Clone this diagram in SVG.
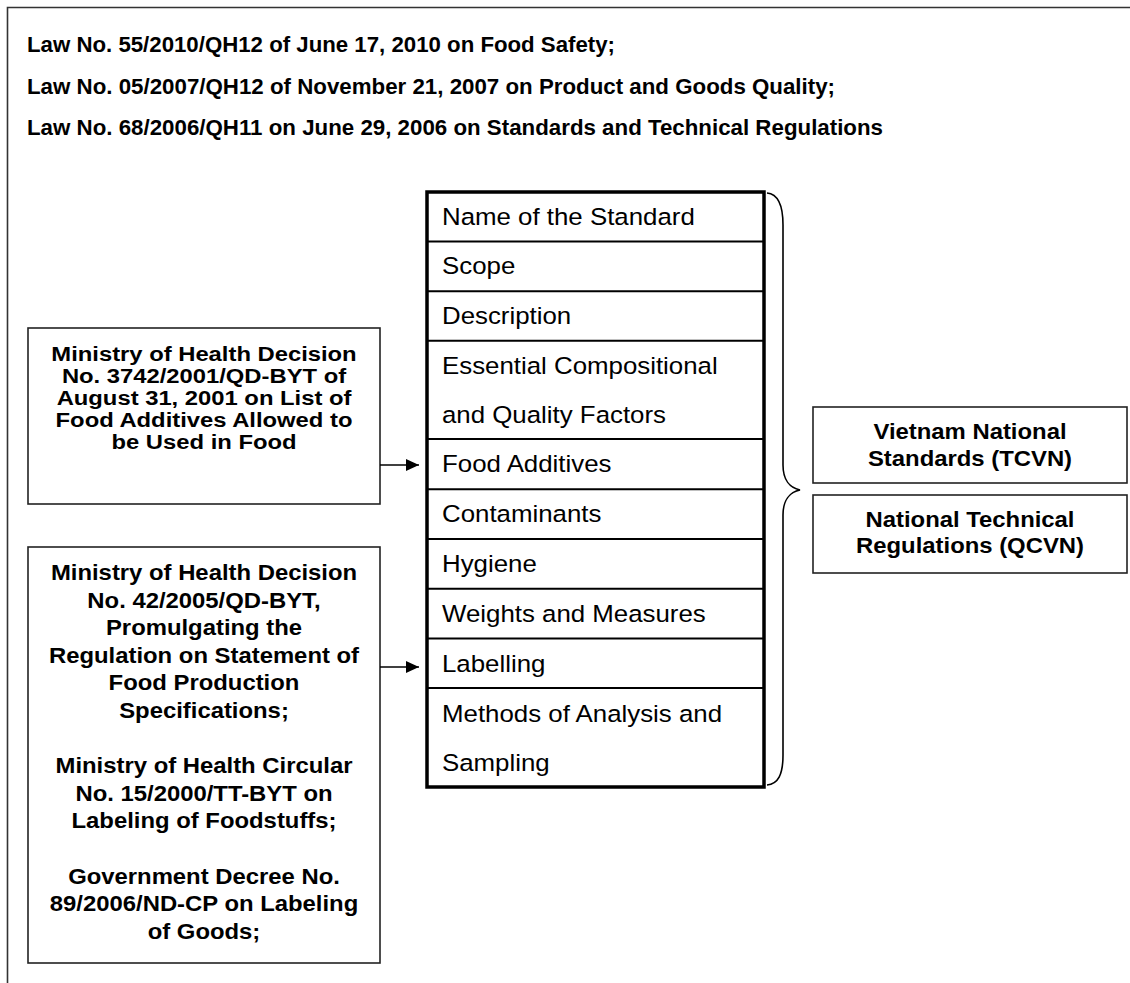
<svg xmlns="http://www.w3.org/2000/svg" width="1130" height="983" viewBox="0 0 1130 983">
  <style>
    .law { font-family: "Liberation Sans", Arial, sans-serif; font-weight: bold; font-size: 21.5px; fill: #000; }
    .box { fill: #fff; stroke: #222; stroke-width: 1.6; }
    .lbl { font-family: "Liberation Sans", Arial, sans-serif; font-weight: bold; font-size: 22px; fill: #000; text-anchor: middle; }
    .lbl.tight { font-size: 20px; }
    .cell { font-family: "Liberation Sans", Arial, sans-serif; font-size: 23.5px; fill: #000; }
    .rowline { stroke: #000; stroke-width: 2; }
    .frame { fill: none; stroke: #333; stroke-width: 1.6; }
    .conn { stroke: #000; stroke-width: 1.6; fill: none; }
  </style>
  <defs>
    <marker id="arrowhead" markerUnits="userSpaceOnUse" markerWidth="14" markerHeight="13" refX="13" refY="6" orient="auto">
      <path d="M0,0 L13,6 L0,12 z" fill="#000"/>
    </marker>
  </defs>

  <rect width="1130" height="983" fill="#fff"/>

  <!-- outer frame: only top and left edges fall inside the canvas -->
  <path class="frame" d="M7.5,983 L7.5,7.5 L1130,7.5"/>

  <!-- legal basis -->
  <g id="laws">
    <text class="law" x="27" y="51.5" textLength="588" lengthAdjust="spacingAndGlyphs">Law No. 55/2010/QH12 of June 17, 2010 on Food Safety;</text>
    <text class="law" x="27" y="93.5" textLength="808" lengthAdjust="spacingAndGlyphs">Law No. 05/2007/QH12 of November 21, 2007 on Product and Goods Quality;</text>
    <text class="law" x="27" y="135" textLength="856" lengthAdjust="spacingAndGlyphs">Law No. 68/2006/QH11 on June 29, 2006 on Standards and Technical Regulations</text>
  </g>

  <!-- standard structure table -->
  <g id="standard-table">
    <rect x="427" y="192" width="337" height="595" fill="#fff" stroke="#000" stroke-width="3.5"/>
    <line class="rowline" x1="427" y1="241.6" x2="764" y2="241.6"/>
    <line class="rowline" x1="427" y1="291.2" x2="764" y2="291.2"/>
    <line class="rowline" x1="427" y1="340.8" x2="764" y2="340.8"/>
    <line class="rowline" x1="427" y1="439" x2="764" y2="439"/>
    <line class="rowline" x1="427" y1="489.3" x2="764" y2="489.3"/>
    <line class="rowline" x1="427" y1="539" x2="764" y2="539"/>
    <line class="rowline" x1="427" y1="588.8" x2="764" y2="588.8"/>
    <line class="rowline" x1="427" y1="638.5" x2="764" y2="638.5"/>
    <line class="rowline" x1="427" y1="688" x2="764" y2="688"/>
    <g transform="translate(442 0) scale(1.1 1)">
      <text class="cell" x="0" y="225">Name of the Standard</text>
      <text class="cell" x="0" y="274.5">Scope</text>
      <text class="cell" x="0" y="324">Description</text>
      <text class="cell" x="0" y="374">Essential Compositional</text>
      <text class="cell" x="0" y="423">and Quality Factors</text>
      <text class="cell" x="0" y="472.5">Food Additives</text>
      <text class="cell" x="0" y="522">Contaminants</text>
      <text class="cell" x="0" y="572">Hygiene</text>
      <text class="cell" x="0" y="622">Weights and Measures</text>
      <text class="cell" x="0" y="672">Labelling</text>
      <text class="cell" x="0" y="722">Methods of Analysis and</text>
      <text class="cell" x="0" y="771.5">Sampling</text>
    </g>
  </g>

  <!-- additives decision -->
  <g id="additives-decision">
    <rect class="box" x="28" y="328" width="352" height="176"/>
    <g transform="translate(204 0) scale(1.19 1)">
      <text class="lbl tight" x="0" y="361.5">Ministry of Health Decision</text>
      <text class="lbl tight" x="0" y="383.5">No. 3742/2001/QD-BYT of</text>
      <text class="lbl tight" x="0" y="405.5">August 31, 2001 on List of</text>
      <text class="lbl tight" x="0" y="427.5">Food Additives Allowed to</text>
      <text class="lbl tight" x="0" y="449.5">be Used in Food</text>
    </g>
  </g>

  <!-- labelling regulations -->
  <g id="labelling-regulations">
    <rect class="box" x="28" y="547" width="352" height="416"/>
    <g transform="translate(204 0) scale(1.085 1)">
      <text class="lbl" x="0" y="580">Ministry of Health Decision</text>
      <text class="lbl" x="0" y="607.6">No. 42/2005/QD-BYT,</text>
      <text class="lbl" x="0" y="635.2">Promulgating the</text>
      <text class="lbl" x="0" y="662.8">Regulation on Statement of</text>
      <text class="lbl" x="0" y="690.4">Food Production</text>
      <text class="lbl" x="0" y="718">Specifications;</text>
      <text class="lbl" x="0" y="773.2">Ministry of Health Circular</text>
      <text class="lbl" x="0" y="800.8">No. 15/2000/TT-BYT on</text>
      <text class="lbl" x="0" y="828.4">Labeling of Foodstuffs;</text>
      <text class="lbl" x="0" y="883.6">Government Decree No.</text>
      <text class="lbl" x="0" y="911.2">89/2006/ND-CP on Labeling</text>
      <text class="lbl" x="0" y="938.8">of Goods;</text>
    </g>
  </g>

  <!-- resulting standard types -->
  <g id="tcvn">
    <rect class="box" x="813" y="407" width="314" height="76"/>
    <g transform="translate(970 0) scale(1.085 1)">
      <text class="lbl" x="0" y="439">Vietnam National</text>
      <text class="lbl" x="0" y="466">Standards (TCVN)</text>
    </g>
  </g>
  <g id="qcvn">
    <rect class="box" x="813" y="495" width="314" height="78"/>
    <g transform="translate(970 0) scale(1.085 1)">
      <text class="lbl" x="0" y="527">National Technical</text>
      <text class="lbl" x="0" y="553">Regulations (QCVN)</text>
    </g>
  </g>

  <!-- connectors -->
  <g id="connectors">
    <line class="conn" x1="380" y1="465" x2="419" y2="465" marker-end="url(#arrowhead)"/>
    <line class="conn" x1="380" y1="667" x2="419" y2="667" marker-end="url(#arrowhead)"/>
    <path class="conn" d="M767,193 C778,194 783,205 783,225 L783,465 C783,480 790,488 800,490 C790,492 783,500 783,515 L783,755 C783,775 778,784 767,785"/>
  </g>
</svg>
